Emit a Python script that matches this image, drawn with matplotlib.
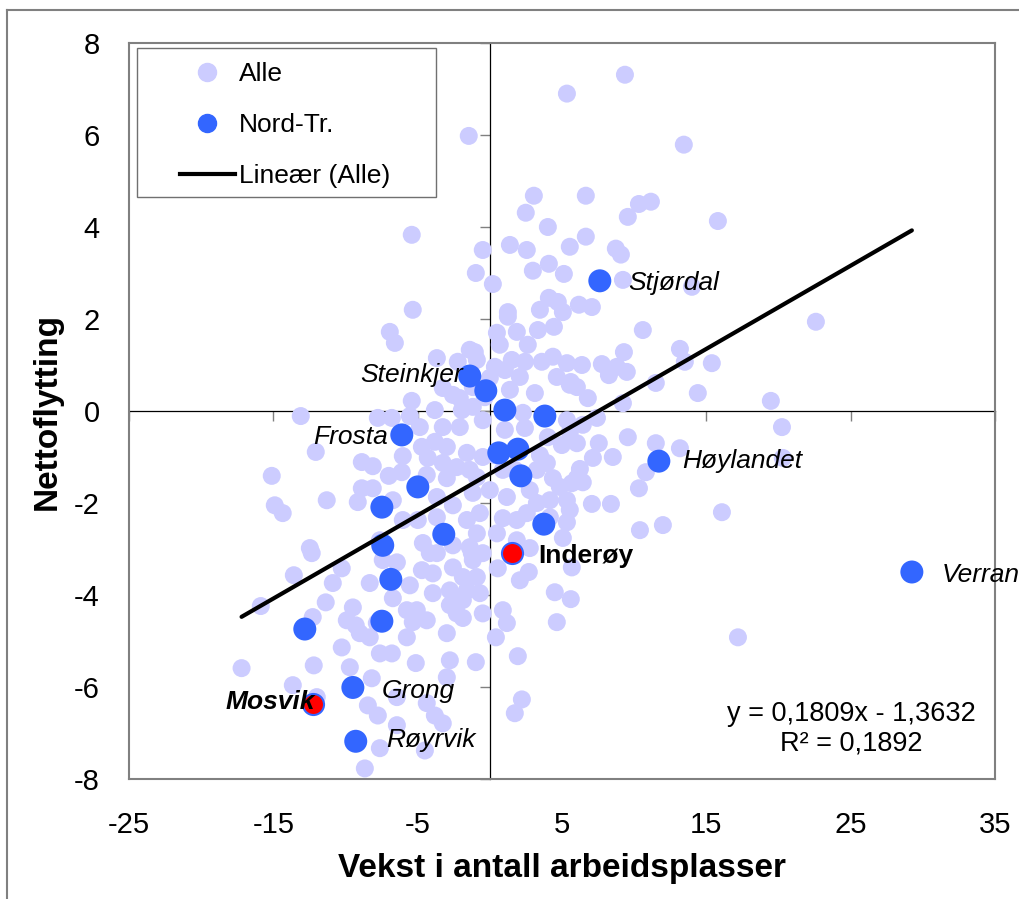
import matplotlib
matplotlib.use("Agg")
import matplotlib.pyplot as plt
from matplotlib.lines import Line2D
from matplotlib.patches import Rectangle

plt.rcParams['font.family'] = ['Liberation Sans', 'DejaVu Sans']
plt.rcParams['axes.unicode_minus'] = False

# ---------------- data ----------------
alle_x = [9.36, 5.34, -1.46, 13.44, 3.05, 6.65, 2.49, 4.02, 9.56, 10.33, 11.16, 15.80, -5.41, 1.39, 2.56,
          -0.49, 5.54, 6.65, 8.73, 9.08, 4.09, 2.98, 5.13, -0.97, 0.21, 9.22, 14.0, 4.09, 4.71, 6.17,
          7.07, 1.25, 3.47, -5.34, 5.06, 4.44, 10.6, 22.59, 9.29, 13.17, 13.51, 15.38, 7.76, 8.80, 9.49,
          8.25, 6.38, 4.37, 5.61, 6.03, 6.79, 14.41, 19.47, 11.50, 9.22, 7.42, 20.24, 9.56, 7.55, 11.50,
          13.17, 8.52, 7.14, 10.81, 10.33, 20.30, 6.24, 5.68, 4.85, 7.07, 8.39, 16.08, 5.34, 10.40, 11.99,
          4.50, 5.61, 5.68, 4.64, 17.19, 0.90, 1.18, 0.42, 1.94, -0.97, 2.22, 1.73, 0.55, 2.08, 2.70,
          -0.90, -1.25, 1.25, 0.49, 1.87, 3.33, 2.63, -1.04, 1.52, 2.43, 3.60, 5.34, 0.35, 0.0, 2.08,
          4.64, 5.54, 3.12, 1.39, -1.18, -0.49, 2.29, 2.43, 5.34, 5.54, 6.44, 6.03, 4.99, 4.02, 3.95,
          3.26, 4.37, 6.03, 6.44, 2.77, 0.90, -0.49, -0.90, 0.0, 1.18, 3.26, 4.16, 5.34, 5.54, 2.56,
          1.87, 0.90, 4.16, -0.69, -0.90, 0.49, 1.87, 5.06, 2.77, -6.93, -6.58, -3.67, -1.39, -2.22,
          -0.90, -2.56, -5.41, -3.81, -1.94, -1.18, -13.10, -7.76, -6.79, -5.54, -4.85, -3.26, -2.08, -12.06, -8.87,
          -8.11, -6.03, -4.71, -3.81, -2.98, -4.30, -3.26, -1.59, -2.29, -15.11, -6.10, -7.00, -4.37, -2.98,
          -1.39, -8.87, -8.11, -9.15, -6.72, -11.30, -14.90, -14.35, -3.67, -2.56, -1.18, -6.03, -4.99, -3.67,
          -1.59, -12.47, -7.62, -4.64, -2.56, -1.39, -12.34, -13.58, -15.87, -11.37, -12.27, -10.88, -10.26,
          -9.49, -9.29, -8.32, -7.42, -6.44, -6.72, -5.54, -4.71, -3.95, -4.16, -5.34, -5.75, -2.77, -1.87,
          -1.59, -10.26, -9.70, -8.32, -7.62, -6.79, -7.83, -17.20, -12.20, -13.65, -11.99, -5.13, -2.77,
          -2.98, -8.18, -8.45, -7.76, -6.44, -4.37, -3.81, -3.26, -6.44, -7.62, -4.50, -8.66, -3.67, -2.56,
          -1.87, -1.18, -0.49, -2.77, -1.87, -0.69, -3.95, -5.06, -4.37, -2.29, -0.49, -2.98, -5.75, -9.01,
          -9.91, -3.26, -2.08, -0.35, 0.69, 1.04, 1.04, 3.47, 1.73, 0.35]
alle_y = [7.31, 6.90, 5.98, 5.79, 4.68, 4.68, 4.31, 4.00, 4.22, 4.50, 4.55, 4.13, 3.83, 3.61, 3.50,
          3.50, 3.57, 3.79, 3.53, 3.40, 3.20, 3.05, 2.98, 3.00, 2.76, 2.85, 2.70, 2.46, 2.37, 2.31,
          2.26, 2.15, 2.20, 2.20, 2.15, 1.83, 1.76, 1.94, 1.28, 1.35, 1.07, 1.04, 1.02, 0.96, 0.85,
          0.78, 1.00, 1.18, 0.63, 0.52, 0.28, 0.39, 0.22, 0.61, 0.17, -0.15, -0.35, -0.57, -0.70, -0.70,
          -0.81, -1.00, -1.02, -1.33, -1.68, -1.02, -1.26, -1.57, -1.65, -2.02, -2.02, -2.20, -2.42, -2.59, -2.48,
          -3.94, -4.09, -3.40, -4.59, -4.92, -4.33, -4.61, -4.92, -5.33, -5.46, -6.27, -6.57, -3.42, -3.68, -3.50,
          -3.61, -3.09, 2.05, 1.70, 1.72, 1.76, 1.44, 1.28, 1.11, 1.07, 1.07, 1.04, 0.96, 0.72, 0.74,
          0.74, 0.57, 0.39, 0.46, 0.52, -0.20, -0.04, -0.37, -0.20, -0.46, -0.30, -0.70, -0.74, -0.57, -1.13,
          -1.28, -1.46, -1.46, -1.55, -1.72, -1.28, -1.00, -1.44, -1.72, -1.87, -2.00, -1.94, -1.94, -2.15, -2.22,
          -2.37, -2.33, -2.31, -2.22, -2.66, -2.66, -2.81, -2.76, -2.98, 1.72, 1.48, 1.15, 1.33, 1.07,
          1.11, 0.35, 0.22, 0.02, 0.02, 0.09, -0.11, -0.15, -0.15, -0.11, -0.35, -0.35, -0.35, -0.89, -1.11,
          -1.20, -0.98, -0.78, -0.67, -0.78, -1.02, -1.13, -0.91, -1.22, -1.41, -1.33, -1.41, -1.39, -1.46,
          -1.28, -1.68, -1.68, -1.98, -1.94, -1.94, -2.05, -2.22, -1.87, -2.05, -1.78, -2.37, -2.37, -2.31,
          -2.37, -2.98, -2.81, -2.87, -2.92, -2.96, -3.09, -3.57, -4.24, -4.16, -4.48, -3.74, -3.42,
          -4.27, -4.66, -3.74, -3.24, -3.29, -4.07, -3.79, -3.46, -3.53, -3.09, -4.59, -4.33, -4.22, -4.50,
          -3.90, -5.14, -5.57, -4.92, -5.27, -5.27, -4.61, -5.59, -5.53, -5.96, -6.22, -5.48, -5.42,
          -5.79, -5.81, -6.40, -6.62, -6.22, -6.35, -6.62, -6.79, -6.83, -7.33, -7.38, -7.77, -3.09, -3.40,
          -3.61, -3.24, -3.09, -3.90, -4.11, -3.96, -3.96, -4.33, -4.55, -4.40, -4.40, -4.83, -4.92, -4.83,
          -4.55, 0.50, 0.28, 0.30, 1.44, 0.89, -0.41, -0.96, -1.28, -0.96]

nt_x = [7.62, -1.39, -0.28, 1.04, 3.81, -6.10, 0.62, 1.94, 2.15, 11.71, -4.99, -7.48,
        3.74, -3.19, -7.42, -6.86, -7.48, -12.82, 29.24, -9.49, -9.29]
nt_y = [2.83, 0.76, 0.44, 0.02, -0.11, -0.52, -0.91, -0.83, -1.41, -1.09, -1.65, -2.09,
        -2.46, -2.68, -2.92, -3.66, -4.57, -4.74, -3.50, -6.01, -7.18]
nt_names = ['Stjørdal', 'Steinkjer', '', '', '', 'Frosta', '', '', '', 'Høylandet', '', '',
            '', '', '', '', '', '', 'Verran', 'Grong', 'Røyrvik']

hl_x = [1.52, -12.27]
hl_y = [-3.09, -6.38]
hl_names = ['Inderøy', 'Mosvik']

trend_slope = 0.1809
trend_intercept = -1.3632
r_squared = 0.1892

x_ticks = [-25, -15, -5, 5, 15, 25, 35]
y_ticks = [-8, -6, -4, -2, 0, 2, 4, 6, 8]
x_label = 'Vekst i antall arbeidsplasser'
y_label = 'Nettoflytting'
legend_labels = ['Alle', 'Nord-Tr.', 'Lineær (Alle)']

# ---------------- styles ----------------
LIGHT = '#CCCCFF'
BLUE = '#3366FF'
RED = '#FF0000'
GRAY = '#808080'

label_offsets = {  # pixels (dx, dy) for baseline anchored text
    'Stjørdal': (28, -9.5, 'left'),
    'Steinkjer': (-7, -5.5, 'right'),
    'Frosta': (-14, -9.5, 'right'),
    'Høylandet': (23, -6.5, 'left'),
    'Verran': (30, -9.5, 'left'),
    'Grong': (29, -10.5, 'left'),
    'Røyrvik': (30, -5.5, 'left'),
    'Inderøy': (26, -9.5, 'left'),
    'Mosvik': (2, -4.5, 'right'),
}

W, H = 1019, 899
fig = plt.figure(figsize=(W / 100, H / 100), dpi=100)
fig.patch.set_facecolor('white')

L, R, T, B = 129, 995, 43, 779
ax = fig.add_axes([L / W, 1 - B / H, (R - L) / W, (B - T) / H])
ax.set_xlim(-25, 35)
ax.set_ylim(-8, 8)

for s in ax.spines.values():
    s.set_color(GRAY)
    s.set_linewidth(1.5)
    s.set_zorder(6)

ax.set_xticks(x_ticks)
ax.set_yticks(y_ticks)
ax.tick_params(length=0, labelsize=21, colors='black')
ax.tick_params(axis='x', pad=23)
ax.tick_params(axis='y', pad=21)

ax.set_xlabel(x_label, fontsize=24, fontweight='bold')
ax.set_ylabel(y_label, fontsize=24, fontweight='bold')
ax.xaxis.set_label_coords(0.5, -0.101)
ax.yaxis.set_label_coords(-0.077, 0.5)

# zero axes with tick marks
secx = ax.secondary_xaxis(0.5)
secx.set_xticks(x_ticks)
secx.set_xticklabels([])
secx.tick_params(axis='x', direction='in', length=7.5, width=1, color=GRAY,
                 labeltop=False, labelbottom=False)
for s in secx.spines.values():
    s.set_color('black')
    s.set_linewidth(0.9)
secx.set_zorder(1)

secy = ax.secondary_yaxis(25 / 60)
secy.set_yticks(y_ticks)
secy.set_yticklabels([])
secy.tick_params(axis='y', direction='out', length=7.5, width=1, color=GRAY,
                 labelleft=False, labelright=False)
for s in secy.spines.values():
    s.set_color('black')
    s.set_linewidth(0.9)
secy.set_zorder(1)

# points
ax.scatter(alle_x, alle_y, s=168, c=LIGHT, edgecolors='none', zorder=2)
ax.scatter(nt_x, nt_y, s=274, c=BLUE, edgecolors='none', zorder=3)
ax.scatter(hl_x, hl_y, s=230, c=RED, edgecolors=BLUE, linewidths=1.5, zorder=3.5)

# trend line over data range
all_x = alle_x + nt_x + hl_x
xmin, xmax = min(all_x), max(all_x)
ax.plot([xmin, xmax], [trend_slope * xmin + trend_intercept, trend_slope * xmax + trend_intercept],
        color='black', lw=3, solid_capstyle='round', zorder=4)

# labels
for name, x, y in zip(nt_names, nt_x, nt_y):
    if not name:
        continue
    dx, dy, ha = label_offsets[name]
    ax.annotate(name, (x, y), xytext=(dx, dy), textcoords='offset pixels',
                ha=ha, va='baseline', fontsize=19, fontstyle='italic', zorder=7,
                annotation_clip=False)
for name, x, y in zip(hl_names, hl_x, hl_y):
    dx, dy, ha = label_offsets[name]
    style = 'italic' if name == 'Mosvik' else 'normal'
    ax.annotate(name, (x, y), xytext=(dx, dy), textcoords='offset pixels',
                ha=ha, va='baseline', fontsize=19, fontstyle=style, fontweight='bold',
                zorder=7, annotation_clip=False)

# equation
eq_text = 'y = {} x - {}'.format(f'{trend_slope:.4f}'.replace('.', ','),
                                 f'{-trend_intercept:.4f}'.replace('.', ',')).replace(' x', 'x')
r2_text = 'R² = ' + f'{r_squared:.4f}'.replace('.', ',')
fig.text(851 / W, 1 - 721 / H, eq_text, ha='center', va='baseline', fontsize=19.5)
fig.text(851 / W, 1 - 750 / H, r2_text, ha='center', va='baseline', fontsize=19.5)

# legend
fig.patches.append(Rectangle((137 / W, 1 - 197 / H), 299 / W, 149 / H, transform=fig.transFigure,
                             facecolor='white', edgecolor='#707070', lw=1, zorder=5))
handles = [Line2D([], [], ls='', marker='o', markersize=13, color=LIGHT),
           Line2D([], [], ls='', marker='o', markersize=13, color=BLUE),
           Line2D([], [], color='black', lw=3)]
leg = fig.legend(handles, legend_labels, loc='upper left', bbox_to_anchor=(180 / W, 1 - 62 / H),
                 bbox_transform=fig.transFigure, frameon=False, fontsize=19,
                 handlelength=2.08, handletextpad=0.15, labelspacing=1.02, borderpad=0,
                 borderaxespad=0)
leg.set_zorder(8)

# outer chart border
fig.add_artist(Line2D([7 / W, 7 / W], [0, 1 - 10 / H], transform=fig.transFigure, color=GRAY, lw=1.5))
fig.add_artist(Line2D([7 / W, 1.0], [1 - 10 / H, 1 - 10 / H], transform=fig.transFigure, color=GRAY, lw=1.5))

fig.savefig('out.png', dpi=100)
